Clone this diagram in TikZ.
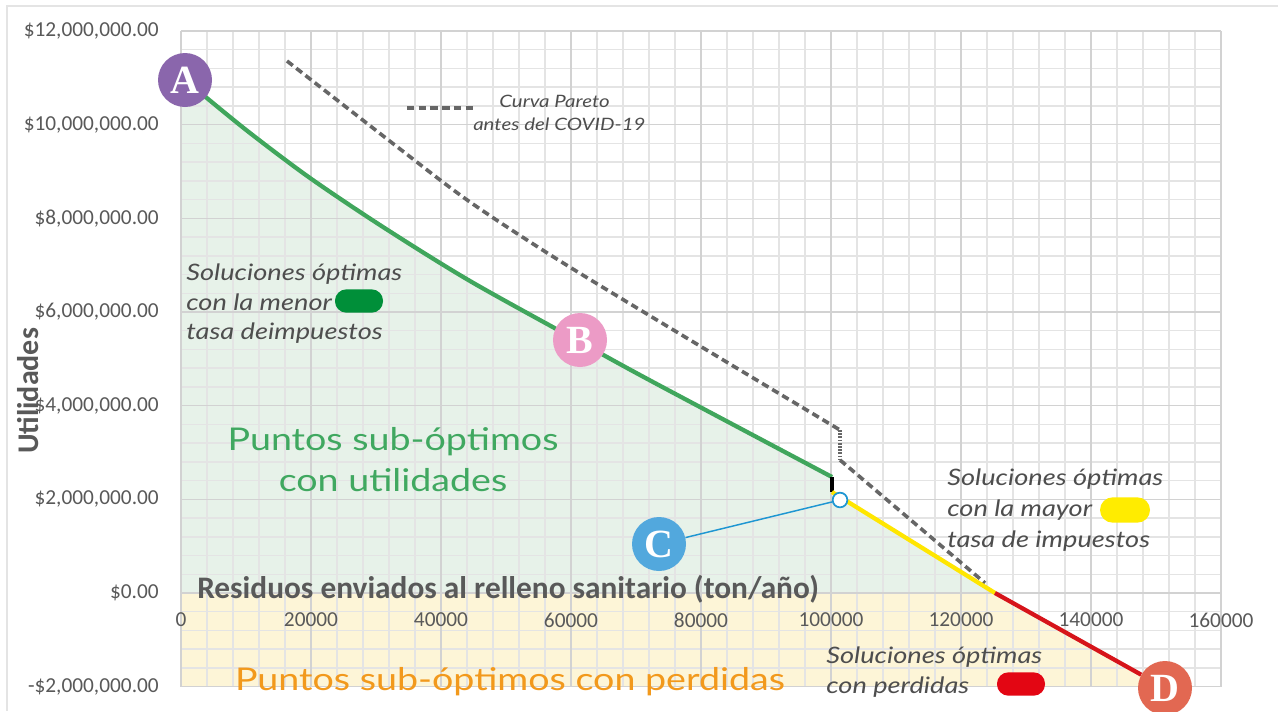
\documentclass[tikz,border=0pt]{standalone}
\usepackage{fontspec}
\setmainfont{Lato}[FakeStretch=1.2]
\newfontfamily\carl{Carlito}
\newfontfamily\lserif{Liberation Serif}
\definecolor{txtgray}{RGB}{89,89,89}
\definecolor{annotc}{RGB}{78,78,78}
\definecolor{greentxt}{RGB}{64,168,96}
\definecolor{orangetxt}{RGB}{242,153,28}
\definecolor{greenline}{RGB}{64,166,92}
\definecolor{greenfill}{RGB}{231,242,233}
\definecolor{yellowfill}{RGB}{253,245,215}
\definecolor{yellowline}{RGB}{255,230,0}
\definecolor{redline}{RGB}{214,20,26}
\definecolor{pillgreen}{RGB}{0,143,57}
\definecolor{pillyellow}{RGB}{255,236,0}
\definecolor{pillred}{RGB}{227,6,19}
\definecolor{Acol}{RGB}{138,102,172}
\definecolor{Bcol}{RGB}{236,155,198}
\definecolor{Ccol}{RGB}{82,168,221}
\definecolor{Dcol}{RGB}{226,104,82}
\definecolor{bluec}{RGB}{30,150,210}
\definecolor{gridminor}{RGB}{228,228,228}
\definecolor{gridmajor}{RGB}{210,210,210}
\definecolor{paretoc}{RGB}{102,102,102}
\begin{document}
\begin{tikzpicture}[x=0.75pt,y=-0.75pt,
  ytick/.style={anchor=east,inner sep=0,text=txtgray,font=\carl\fontsize{16}{19}\selectfont},
  xtick/.style={anchor=center,inner sep=0,text=txtgray,font=\carl\fontsize{16}{19}\selectfont},
  annot/.style={anchor=base west,inner sep=0,text=annotc,font=\itshape\fontsize{17}{20}\selectfont},
  bigtxt/.style={anchor=base,inner sep=0,font=\fontsize{23.5}{28}\selectfont},
  pill/.style={rectangle,rounded corners=8.5pt,minimum width=36pt,minimum height=17.5pt,inner sep=0},
  letter/.style={circle,minimum size=40.5pt,inner sep=0,text=white,font=\lserif\bfseries\fontsize{30}{30}\selectfont},
  pareto/.style={draw=paretoc,line width=2.7pt,dash pattern=on 5.5pt off 3.3pt},
  paretodot/.style={draw=paretoc,line width=2.7pt,dash pattern=on 1.3pt off 1.1pt},
  seg/.style={line width=3.2pt}]
\useasboundingbox (0,0) rectangle (1278,711);
\fill[white] (0,0) rectangle (1278,711);
% outer frame
\draw[gridminor,line width=1.5pt] (7,711) -- (7,6) -- (1278,6);
% fills
\fill[yellowfill] (181,593) -- (995,593) -- (1162.6,686.7) -- (181,686.7) -- cycle;
\fill[greenfill] (181,593) -- (181,80) -- plot[smooth,tension=0.5] coordinates {(185,80) (205,96.5) (250,133) (310,178) (383,227) (470,281) (580,342) (653,382) (832,477)} -- (832,492) -- (995,593) -- cycle;
% grid
\foreach \i in {0,...,40} {\draw[gridminor,line width=1.1pt] (181+26*\i,31) -- (181+26*\i,686.7);}
\foreach \j in {0,...,35} {\draw[gridminor,line width=1.1pt] (181,31+18.734*\j) -- (1221,31+18.734*\j);}
\foreach \i in {0,...,8} {\draw[gridmajor,line width=1.1pt] (181+130*\i,31) -- (181+130*\i,686.7);}
\foreach \j in {0,...,7} {\draw[gridmajor,line width=1.1pt] (181,31+93.67*\j) -- (1221,31+93.67*\j);}
% y tick labels
\node[ytick] (y12) at (159,31) {\$12,000,000.00};
\node[ytick] (y10) at (159,124.7) {\$10,000,000.00};
\node[ytick] (y8) at (159,218.3) {\$8,000,000.00};
\node[ytick] (y6) at (159,312) {\$6,000,000.00};
\node[ytick] (y4) at (159,405.7) {\$4,000,000.00};
\node[ytick] (y2) at (159,499.3) {\$2,000,000.00};
\node[ytick] (y0) at (159,593) {\$0.00};
\node[ytick] (ym2) at (159,686.7) {-\$2,000,000.00};
% x tick labels
\node[xtick] (x0) at (181,620) {0};
\node[xtick] (x1) at (311,620) {20000};
\node[xtick] (x2) at (441,620) {40000};
\node[xtick] (x3) at (571,620) {60000};
\node[xtick] (x4) at (701,620) {80000};
\node[xtick] (x5) at (831,620) {100000};
\node[xtick] (x6) at (961,620) {120000};
\node[xtick] (x7) at (1091,620) {140000};
\node[xtick] (x8) at (1221,620) {160000};
% axis titles
\node[anchor=base west,inner sep=0,text=txtgray,font=\carl\bfseries\fontsize{23.5}{26}\selectfont] (xtitle) at (197,598) {Residuos enviados al relleno sanitario (ton/año)};
\node[anchor=center,inner sep=0,rotate=90,text=txtgray,font=\carl\bfseries\fontsize{22.5}{24}\selectfont] (ytitle) at (28,391) {Utilidades};
% pareto curve before COVID
\coordinate (p1) at (287,61);
\coordinate (p2) at (840,430);
\coordinate (p3) at (840,460);
\coordinate (p4) at (985,583);
\draw[pareto] plot[smooth,tension=0.5] coordinates {(287,61) (400,149) (470,202) (560,261) (700,346) (840,430)};
\draw[paretodot] (p2) -- (p3);
\draw[pareto] (p3) -- (p4);
% legend
\coordinate (lg1) at (407,108);
\coordinate (lg2) at (474,108);
\draw[pareto] (lg1) -- (lg2);
\node[annot,font=\itshape\fontsize{12.8}{15}\selectfont] (lgt1) at (499,107) {Curva Pareto};
\node[annot,font=\itshape\fontsize{12.8}{15}\selectfont] (lgt2) at (473,130) {antes del COVID-19};
% frontier
\coordinate (g1) at (832,477);
\coordinate (k1) at (832,492);
\coordinate (q0) at (995,593);
\draw[greenline,seg] plot[smooth,tension=0.5] coordinates {(185,80) (205,96.5) (250,133) (310,178) (383,227) (470,281) (580,342) (653,382) (832,477)};
\draw[black,seg] (g1) -- (k1);
\draw[yellowline,seg] (k1) -- (q0);
% labels
\node[letter,fill=Acol] (A) at (185,80) {A};
\node[letter,fill=Bcol] (B) at (580,340) {B};
\node[letter,fill=Ccol] (C) at (659,544) {C};
\node[letter,fill=Dcol] (D) at (1165,688) {D};
\draw[redline,seg] (q0) -- (D);
\node[circle,draw=bluec,fill=white,line width=1.3pt,minimum size=11pt,inner sep=0] (c0) at (840,500) {};
\draw[bluec,line width=1.1pt] (c0) -- (C);
% annotations
\node[annot] (l1a) at (186,280) {Soluciones óptimas};
\node[annot] (l1b) at (186,310) {con la menor};
\node[annot] (l1c) at (186,339) {tasa deimpuestos};
\node[pill,fill=pillgreen] (pg) at (359,301) {};
\node[annot] (r1a) at (947,485) {Soluciones óptimas};
\node[annot] (r1b) at (947,516) {con la mayor};
\node[annot] (r1c) at (947,547) {tasa de impuestos};
\node[pill,fill=pillyellow,minimum width=37.5pt,minimum height=19pt,rounded corners=9.5pt] (py) at (1125,510) {};
\node[annot] (b1a) at (826,663) {Soluciones óptimas};
\node[annot] (b1b) at (826,693) {con perdidas};
\node[pill,fill=pillred] (pr) at (1021,684) {};
\node[bigtxt,text=greentxt] (gt1) at (393,450) {Puntos sub-óptimos};
\node[bigtxt,text=greentxt] (gt2) at (393,491) {con utilidades};
\node[bigtxt,text=orangetxt] (ot1) at (510,690) {Puntos sub-óptimos con perdidas};
\end{tikzpicture}
\end{document}
